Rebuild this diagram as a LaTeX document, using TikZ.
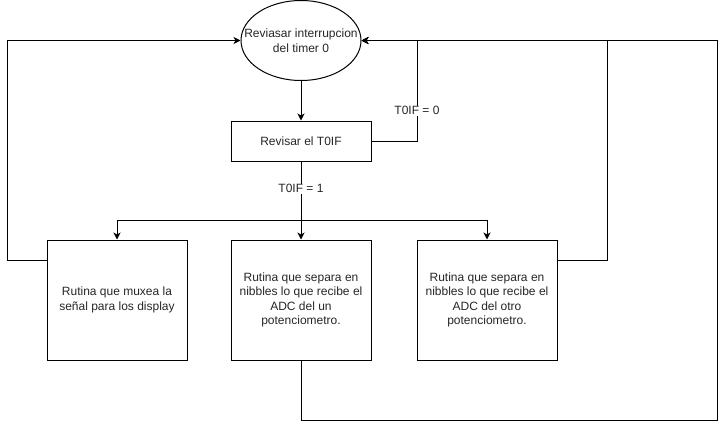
\documentclass[tikz,border=0pt]{standalone}
\usepackage{fontspec}
\setmainfont{Liberation Sans}
\usetikzlibrary{shapes.geometric,arrows.meta}
\tikzset{
  every picture/.style={x=1pt,y=-1pt},
  base/.style={draw=black, line width=1pt, align=center, inner sep=0pt,
    font=\fontsize{12}{14.5}\selectfont, text=black!85},
  ell/.style={draw=black, line width=1pt, ellipse, inner sep=0pt, minimum width=120pt, minimum height=80pt},
  etext/.style={align=center, inner sep=0pt, font=\fontsize{12}{14.5}\selectfont, text=black!85},
  box/.style={base, rectangle, minimum width=140pt},
  conn/.style={line width=1pt, draw=black},
  arr/.style={conn, -{Stealth[length=7pt,width=7pt,inset=2pt]}},
  lbl/.style={fill=white, inner sep=1pt, font=\fontsize{12}{14}\selectfont, text=black!85}
}
\begin{document}
\begin{tikzpicture}
\useasboundingbox (0,0) rectangle (726,429);
\node[ell] (e) at (301,40.5) {};
\node[etext] (et) at (e.center) {Reviasar interrupcion\\del timer 0};
\node[box, minimum height=40pt] (r) at (301,141) {Revisar el T0IF};
\node[box, minimum height=120pt] (a) at (117,300) {Rutina que muxea la\\señal para los display};
\node[box, minimum height=120pt] (b) at (301,300) {Rutina que separa en\\nibbles lo que recibe el\\ADC del un\\potenciometro.};
\node[box, minimum height=120pt] (c) at (487,300) {Rutina que separa en\\nibbles lo que recibe el\\ADC del otro\\potenciometro.};
\coordinate (k0) at (417,40.5);
\coordinate (kl) at (7,40.5);
\coordinate (k2) at (607,40.5);
\coordinate (k3) at (717,420);
\coordinate (k4) at (717,40.5);
\coordinate (j) at (301,220);
% main flow
\draw[arr] (e.south) -- (r.north);
\draw[arr] (r.south) -- node[lbl, pos=0.35] (l1) {T0IF = 1} (b.north);
\draw[arr] (j) -| (a.north);
\draw[arr] (j) -| (c.north);
% T0IF = 0 loop
\draw[arr] (r.east) -| node[lbl, pos=0.65] (l0) {T0IF = 0} (k0) -- (e.east);
% return loops
\draw[arr] ([yshift=40pt]a.west) -| (kl) -- (e.west);
\draw[arr] ([yshift=40pt]c.east) -| (k2) -- (e.east);
\draw[arr] (b.south) |- (k3) -- (k4) -- (e.east);
\end{tikzpicture}
\end{document}
